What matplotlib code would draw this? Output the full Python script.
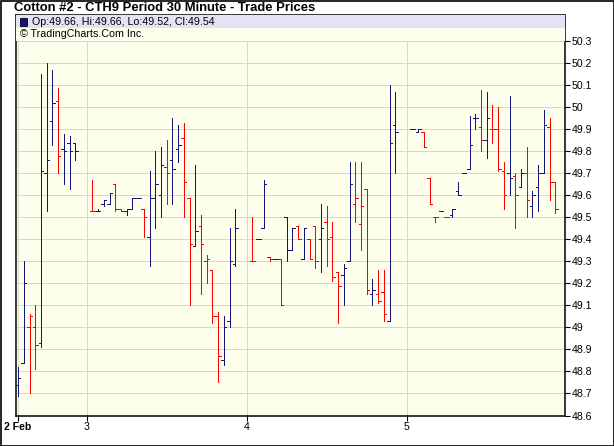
import numpy as np
import matplotlib
matplotlib.use('Agg')
import matplotlib.pyplot as plt
from matplotlib.patches import Rectangle

# 30 minute bars, slot index on the x axis (2 empty slots between sessions)
slots = [0, 1, 2, 3, 4, 5, 6, 7, 8, 9, 10,
         13, 14, 15, 16, 17, 18, 19, 20, 21, 22, 23, 24, 25, 26, 27, 28, 29, 30,
         31, 32, 33, 34, 35, 36, 37, 38,
         41, 42, 43, 44, 45, 46, 47, 48, 49, 50, 51, 52, 53, 54, 55, 56, 57, 58,
         59, 60, 61, 62, 63, 64, 65, 66,
         69, 70, 71, 72, 73, 74, 75, 76, 77, 78, 79, 80, 81, 82, 83, 84, 85, 86,
         87, 88, 89, 90, 91, 92, 93, 94]

opens = [48.74, 48.84, 49.00, 49.00, 48.93, 49.70, 49.94, 50.03, 49.81, 49.84, 49.84,
         49.53, 49.53, 49.56, 49.56, 49.65, 49.54, 49.53, 49.54, 49.59, 49.54, 49.41, 49.59,
         49.60, 49.73, 49.76, 49.81, 49.86, 49.59, 49.37, 49.46, 49.30, 49.26, 49.05, 48.85,
         49.03, 49.29,
         49.30, 49.40, 49.45, 49.32, 49.31, 49.31, 49.50, 49.35, 49.46, 49.31, 49.40, 49.46,
         49.40, 49.48, 49.41, 49.25, 49.24, 49.30, 49.56, 49.47, 49.63, 49.15, 49.15, 49.16,
         49.03, 49.92,
         49.90, 49.89, 49.89, 49.68, 49.50, 49.53, 49.50, 49.51, 49.62, 49.70, 49.72, 49.95,
         49.91, 49.85, 49.90, 49.90, 49.71, 49.70, 49.69, 49.64, 49.70, 49.55, 49.64, 49.70,
         49.91, 49.66]
highs = [48.82, 49.30, 49.06, 49.10, 50.15, 50.20, 50.17, 50.09, 49.88, 49.87, 49.84,
         49.67, 49.54, 49.58, 49.61, 49.65, 49.54, 49.54, 49.59, 49.59, 49.54, 49.71, 49.80,
         49.82, 49.85, 49.95, 49.92, 49.93, 49.59, 49.74, 49.51, 49.33, 49.26, 49.07, 49.05,
         49.45, 49.54,
         49.50, 49.40, 49.67, 49.32, 49.31, 49.31, 49.50, 49.45, 49.46, 49.45, 49.40, 49.46,
         49.56, 49.55, 49.48, 49.25, 49.29, 49.75, 49.75, 49.75, 49.63, 49.22, 49.26, 49.26,
         50.10, 50.07,
         49.90, 49.90, 49.89, 49.68, 49.50, 49.53, 49.50, 49.54, 49.66, 49.70, 49.96, 49.97,
         50.08, 50.07, 50.01, 50.00, 49.75, 50.05, 49.70, 49.72, 49.82, 49.62, 49.74, 49.99,
         49.95, 49.66]
lows = [48.69, 48.84, 48.70, 48.81, 48.91, 49.53, 49.83, 49.70, 49.65, 49.63, 49.76,
        49.53, 49.53, 49.55, 49.56, 49.53, 49.53, 49.51, 49.54, 49.59, 49.41, 49.28, 49.45,
        49.50, 49.56, 49.56, 49.75, 49.50, 49.10, 49.37, 49.15, 49.20, 49.02, 48.75, 48.83,
        49.00, 49.28,
        49.30, 49.40, 49.45, 49.30, 49.31, 49.10, 49.30, 49.35, 49.40, 49.31, 49.31, 49.27,
        49.25, 49.28, 49.21, 49.02, 49.10, 49.30, 49.48, 49.35, 49.15, 49.10, 49.11, 49.03,
        49.03, 49.70,
        49.90, 49.89, 49.82, 49.56, 49.48, 49.53, 49.50, 49.50, 49.60, 49.70, 49.72, 49.90,
        49.80, 49.77, 49.84, 49.71, 49.54, 49.60, 49.45, 49.64, 49.50, 49.50, 49.53, 49.70,
        49.58, 49.52]
closes = [48.77, 49.20, 49.05, 48.92, 49.71, 49.76, 50.02, 49.78, 49.80, 49.80, 49.80,
          49.53, 49.53, 49.58, 49.61, 49.54, 49.53, 49.54, 49.59, 49.59, 49.50, 49.59, 49.65,
          49.74, 49.70, 49.72, 49.83, 49.66, 49.38, 49.44, 49.38, 49.31, 49.05, 48.87, 49.00,
          49.30, 49.45,
          49.30, 49.40, 49.65, 49.31, 49.31, 49.10, 49.35, 49.45, 49.40, 49.45, 49.31, 49.30,
          49.45, 49.40, 49.23, 49.19, 49.27, 49.65, 49.59, 49.55, 49.17, 49.17, 49.12, 49.06,
          49.84, 49.89,
          49.90, 49.90, 49.82, 49.56, 49.50, 49.53, 49.50, 49.54, 49.60, 49.70, 49.83, 49.95,
          49.85, 49.95, 49.90, 49.72, 49.60, 49.68, 49.60, 49.70, 49.58, 49.60, 49.70, 49.92,
          49.66, 49.54]

day_slots = [0, 12, 40, 68]
day_labels = ['2 Feb', '3', '4', '5']

up_color = '#14147f'
down_color = '#ff0000'
grid_color = '#d9d9c6'

plt.rcParams['font.family'] = ['Liberation Sans', 'DejaVu Sans']

x = np.array(slots, dtype=float)
o = np.array(opens)
h = np.array(highs)
l = np.array(lows)
c = np.array(closes)

# bar colour: close vs previous close
prev = np.concatenate([[c[0]], c[:-1]])
cols = [up_color if cc >= pp else down_color for cc, pp in zip(c, prev)]

px = 0.72  # one pixel at 100 dpi, in points
crisp = dict(lw=px, antialiased=False, snap=True)

fig = plt.figure(figsize=(6.14, 4.46), dpi=100)
fig.patch.set_facecolor('white')
ax = fig.add_axes([15.5 / 614, 1 - 415.5 / 446, 549 / 614, 400.5 / 446])
ax.set_facecolor('#fefeec')

# grid
for v in np.arange(48.7, 50.35, 0.1):
    ax.axhline(v, color=grid_color, zorder=1, **crisp)
for d in day_slots:
    ax.axvline(d, color=grid_color, zorder=1, **crisp)

tw = 0.42
ax.vlines(x, l, h, colors=cols, zorder=3, **crisp)
ax.hlines(o, x - tw, x, colors=cols, zorder=3, **crisp)
ax.hlines(c, x, x + tw, colors=cols, zorder=3, **crisp)

ax.set_xlim(-0.45, 95.6)
ax.set_ylim(48.6, 50.42)

yt = np.round(np.arange(48.6, 50.35, 0.1), 1)
ax.yaxis.tick_right()
ax.set_yticks(yt)
ax.set_yticklabels(['%g' % v for v in yt])
ax.set_xticks(day_slots)
ax.set_xticklabels(day_labels)
ax.get_xticklabels()[0].set_fontweight('bold')
ax.tick_params(axis='both', length=3.5, width=0.8, color='black', labelsize=7.6,
               direction='out', pad=1.5)
for s in ax.spines.values():
    s.set_color('black')
    s.set_linewidth(1.1)

# legend rows at the top of the plot
ax.add_patch(Rectangle((0, 1 - 12.5 / 400.5), 1, 12.5 / 400.5, transform=ax.transAxes,
                       facecolor='#e3e3f3', edgecolor='none', zorder=4))
ax.add_patch(Rectangle((0, 1 - 25.5 / 400.5), 1, 13 / 400.5, transform=ax.transAxes,
                       facecolor='#fefeec', edgecolor='none', zorder=4))
ax.add_patch(Rectangle((4 / 549, 1 - 10.5 / 400.5), 7 / 549, 7 / 400.5,
                       transform=ax.transAxes, facecolor=up_color, edgecolor='black',
                       lw=0.6, zorder=5))
ax.text(16.5 / 549, 1 - 7 / 400.5, 'Op:49.66, Hi:49.66, Lo:49.52, Cl:49.54',
        transform=ax.transAxes, fontsize=7.7, va='center', ha='left', zorder=5)
ax.text(4 / 549, 1 - 19 / 400.5, '\u00a9 TradingCharts.Com Inc.',
        transform=ax.transAxes, fontsize=7.7, va='center', ha='left', zorder=5)

fig.text(14 / 614, 1 - 8 / 446, 'Cotton #2 - CTH9 Period 30 Minute - Trade Prices',
         fontsize=9.4, fontweight='bold', va='center', ha='left')

# outer frame
fig.add_artist(Rectangle((0.5 / 614, 0.5 / 446), 613 / 614, 445 / 446,
                         transform=fig.transFigure, facecolor='none',
                         edgecolor='black', lw=1.2))

fig.savefig('out.png', dpi=100)
